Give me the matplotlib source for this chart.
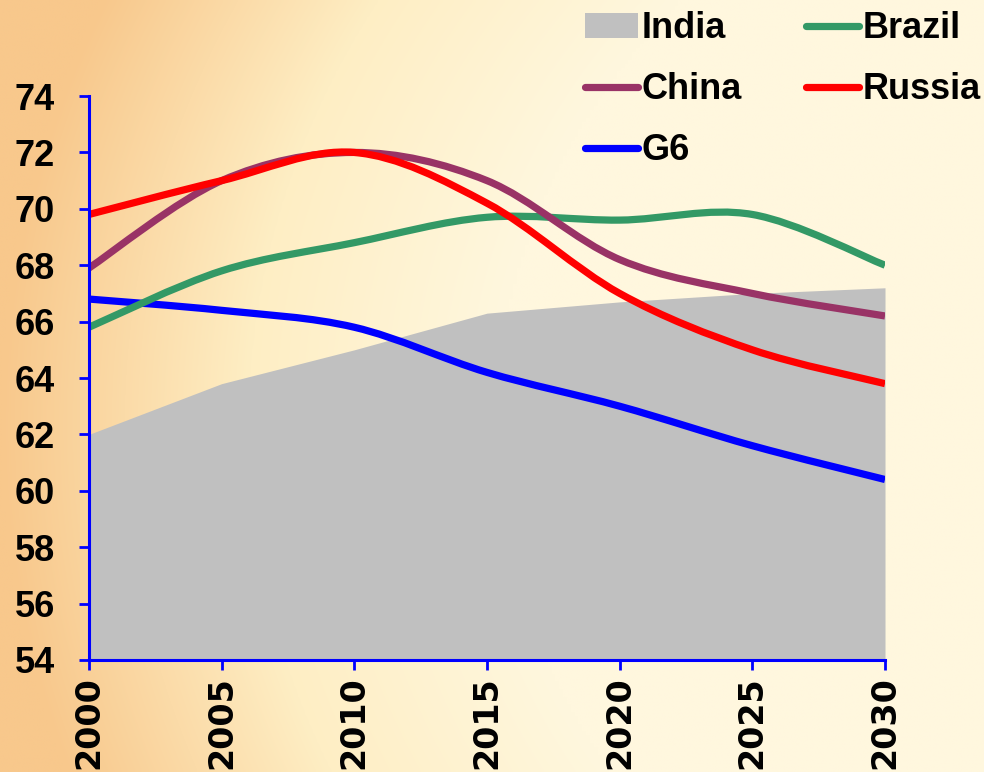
import numpy as np
import matplotlib
matplotlib.use("Agg")
import matplotlib.pyplot as plt
from matplotlib.path import Path
from matplotlib.patches import PathPatch, Patch
from matplotlib.lines import Line2D

years = [2000, 2005, 2010, 2015, 2020, 2025, 2030]
india = [62.0, 63.8, 65.0, 66.3, 66.7, 67.0, 67.2]
brazil = [65.8, 67.8, 68.8, 69.7, 69.6, 69.8, 68.0]
china = [67.9, 71.0, 72.0, 71.0, 68.2, 67.0, 66.2]
russia = [69.8, 71.0, 72.0, 70.2, 67.0, 65.0, 63.8]
g6 = [66.8, 66.4, 65.8, 64.2, 63.0, 61.6, 60.4]
yticks = list(range(54, 75, 2))

plt.rcParams['font.family'] = ['Liberation Sans', 'DejaVu Sans']
plt.rcParams['font.weight'] = 'bold'

fig = plt.figure(figsize=(9.84, 7.72), dpi=100)

# background gradient
H, W = 200, 256
yy, xx = np.mgrid[0:H, 0:W]
xf = xx / W
yf = yy / H
d = np.sqrt(((xf - 1.25) * 1.0) ** 2 + ((yf - 0.55) * 0.9) ** 2)
t = np.clip((d - 0.75) / 0.5, 0, 1)
c_light = np.array([255, 247, 222]) / 255
c_mid = np.array([254, 238, 196]) / 255
c_org = np.array([248, 200, 140]) / 255
t2 = np.clip(t * 2, 0, 1)[..., None]
t3 = np.clip(t * 2 - 1, 0, 1)[..., None]
img = c_light * (1 - t2) + c_mid * t2
img = img * (1 - t3) + c_org * t3
bg = fig.add_axes([0, 0, 1, 1], zorder=-10)
bg.imshow(img, aspect='auto', extent=[0, 1, 0, 1], interpolation='bilinear')
bg.axis('off')

ax = fig.add_axes([0.0904, 0.1451, 0.809, 0.7305])
ax.patch.set_alpha(0)


def smooth_path(xs, ys):
    xs = np.asarray(xs, float)
    ys = np.asarray(ys, float)
    n = len(xs)
    verts = [(xs[0], ys[0])]
    codes = [Path.MOVETO]
    for i in range(n - 1):
        i0 = max(i - 1, 0)
        i3 = min(i + 2, n - 1)
        c1 = (xs[i] + (xs[i + 1] - xs[i0]) / 6, ys[i] + (ys[i + 1] - ys[i0]) / 6)
        c2 = (xs[i + 1] - (xs[i3] - xs[i]) / 6, ys[i + 1] - (ys[i3] - ys[i]) / 6)
        verts += [c1, c2, (xs[i + 1], ys[i + 1])]
        codes += [Path.CURVE4] * 3
    return Path(verts, codes)


ax.fill_between(years, 54, india, color='#C0C0C0', lw=0, zorder=1)

series = [("G6", g6, '#0000FF'), ("Brazil", brazil, '#339966'),
          ("China", china, '#993366'), ("Russia", russia, '#FF0000')]
for i, (name, vals, col) in enumerate(series):
    p = PathPatch(smooth_path(years, vals), fill=False, edgecolor=col, lw=5.2,
                  capstyle='butt', joinstyle='round', zorder=3 + i)
    ax.add_patch(p)

ax.set_xlim(2000, 2030)
ax.set_ylim(54, 74)
ax.set_xticks(years)
ax.set_xticklabels([str(y) for y in years], rotation=90, fontsize=24,
                   fontweight='bold', family=['DejaVu Sans'])
ax.set_yticks(yticks)
ax.set_yticklabels([str(v) for v in yticks], fontsize=26, fontweight='bold')
for s in ['top', 'right']:
    ax.spines[s].set_visible(False)
for s in ['left', 'bottom']:
    ax.spines[s].set_color('#0000FF')
    ax.spines[s].set_linewidth(2.2)
    ax.spines[s].set_zorder(10)
ax.tick_params(axis='both', direction='out', length=7.5, width=2, color='#0000FF',
               pad=4)
ax.tick_params(axis='y', pad=17)

handles = [Patch(facecolor='#C0C0C0', edgecolor='none'),
           Line2D([], [], color='#993366', lw=5.2, solid_capstyle='round'),
           Line2D([], [], color='#0000FF', lw=5.2, solid_capstyle='round'),
           Line2D([], [], color='#339966', lw=5.2, solid_capstyle='round'),
           Line2D([], [], color='#FF0000', lw=5.2, solid_capstyle='round')]
labels = ['India', 'China', 'G6', 'Brazil', 'Russia']
fig.legend(handles, labels, ncol=2, loc='upper left', bbox_to_anchor=(0.580, 1.004),
           frameon=False, handlelength=1.45, handletextpad=0.12,
           columnspacing=1.78, labelspacing=0.72, borderaxespad=0,
           prop={'weight': 'bold', 'size': 26})

fig.savefig('out.png', dpi=100)
